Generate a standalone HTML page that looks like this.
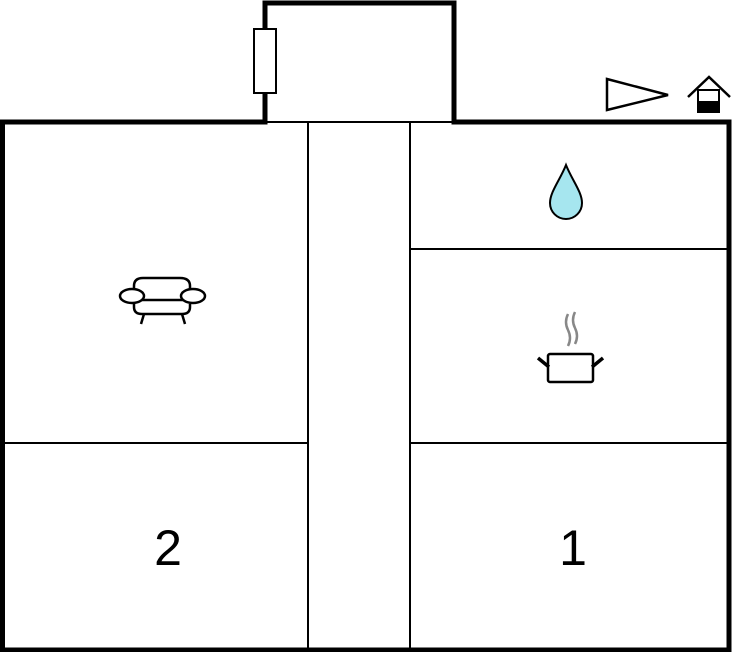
<!DOCTYPE html>
<html><head><style>body{margin:0;background:#fff}svg{display:block}</style></head><body>
<svg width="733" height="652" viewBox="0 0 733 652" xmlns="http://www.w3.org/2000/svg">
<g fill="none" stroke="#000">
<g stroke-width="2">
<line x1="308" y1="122" x2="308" y2="650"/>
<line x1="410" y1="122" x2="410" y2="650"/>
<line x1="2" y1="443" x2="308" y2="443"/>
<line x1="410" y1="443" x2="729" y2="443"/>
<line x1="410" y1="249" x2="729" y2="249"/>
<line x1="265" y1="122" x2="454" y2="122"/>
</g>
<path d="M265 122 L265 3 L454 3 L454 122 L729 122 L729 650 L2.5 650 L2.5 122 Z" stroke-width="5"/>
<rect x="254" y="29" width="22" height="64" fill="#fff" stroke-width="2"/>
<polygon points="607,79 668,95 607,110" stroke-width="2.5"/>
<polyline points="688,97 709,77 730,97" stroke-width="2.5"/>
<rect x="698" y="90" width="21" height="22" stroke-width="2"/>
<rect x="698" y="101" width="21" height="12" fill="#000" stroke="none"/>
<path d="M566 165 C572 180 582 192 582 203 A16 16 0 0 1 550 203 C550 192 560 180 566 165 Z" fill="#a6e6ef" stroke-width="2"/>
<g stroke-width="2.5">
<path d="M134 296 L134 286 Q134 278 143 278 L180 278 Q190 278 190 286 L190 296"/>
<line x1="134" y1="300" x2="190" y2="300"/>
<path d="M134 304 L134 307 Q134 314 142 314 L182 314 Q190 314 190 307 L190 304"/>
<ellipse cx="132" cy="296" rx="12" ry="7" fill="#fff"/>
<ellipse cx="193" cy="296" rx="12" ry="7" fill="#fff"/>
<line x1="144" y1="314" x2="141" y2="324"/>
<line x1="182" y1="314" x2="185" y2="324"/>
</g>
<g stroke-width="2.5">
<rect x="548" y="354" width="45" height="28" rx="2"/>
<line x1="538" y1="358" x2="549" y2="367" stroke-width="3.5"/>
<line x1="603" y1="358" x2="592" y2="367" stroke-width="3.5"/>
<path d="M568 314 Q564 322 568 330 Q572 338 568 346" stroke="#888"/>
<path d="M575 312 Q571 320 575 328 Q579 336 575 344" stroke="#888"/>
</g>
</g>
<text x="168" y="565" font-family="Liberation Sans, sans-serif" font-size="50" text-anchor="middle">2</text>
<text x="573" y="565" font-family="Liberation Sans, sans-serif" font-size="50" text-anchor="middle">1</text>
</svg>
</body></html>
